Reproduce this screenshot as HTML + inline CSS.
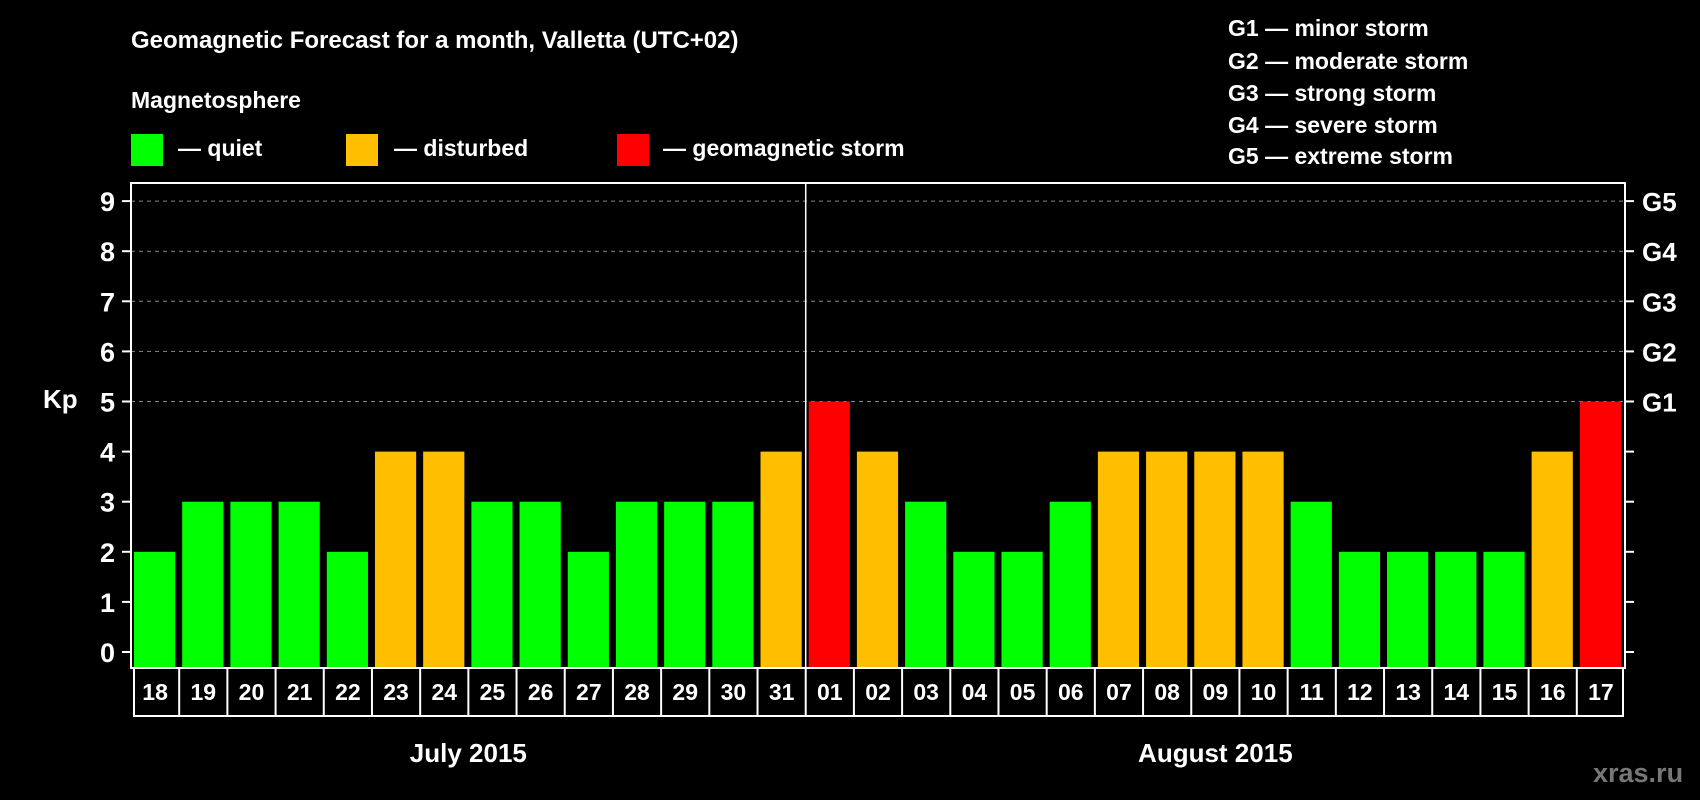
<!DOCTYPE html>
<html><head><meta charset="utf-8"><style>
body{margin:0;background:#000;width:1700px;height:800px;overflow:hidden}
svg{display:block;font-family:"Liberation Sans",sans-serif;font-weight:bold}
</style></head><body>
<svg id="c" width="1700" height="800">
<text x="131" y="48" fill="#fff" font-size="24">Geomagnetic Forecast for a month, Valletta (UTC+02)</text>
<text x="131" y="108" fill="#fff" font-size="23">Magnetosphere</text>
<rect x="131" y="134" width="32" height="32" fill="#00ff00"/>
<text x="178" y="156" fill="#fff" font-size="23">— quiet</text>
<rect x="346" y="134" width="32" height="32" fill="#ffbf00"/>
<text x="394" y="156" fill="#fff" font-size="23">— disturbed</text>
<rect x="617" y="134" width="32" height="32" fill="#ff0000"/>
<text x="663" y="156" fill="#fff" font-size="23">— geomagnetic storm</text>
<g font-size="23" fill="#fff">
<text x="1228" y="36">G1 — minor storm</text>
<text x="1228" y="69">G2 — moderate storm</text>
<text x="1228" y="101">G3 — strong storm</text>
<text x="1228" y="133">G4 — severe storm</text>
<text x="1228" y="164">G5 — extreme storm</text>
</g>
<text x="43" y="408" fill="#fff" font-size="26">Kp</text>
<text x="1593" y="782" fill="#777" font-size="27">xras.ru</text>
<g id="plot"></g>
</svg>
<script>
const days=["18","19","20","21","22","23","24","25","26","27","28","29","30","31","01","02","03","04","05","06","07","08","09","10","11","12","13","14","15","16","17"];
const kp=[2,3,3,3,2,4,4,3,3,2,3,3,3,4,5,4,3,2,2,3,4,4,4,4,3,2,2,2,2,4,5];
const yTicks=[0,1,2,3,4,5,6,7,8,9];
const gLabels=["G1","G2","G3","G4","G5"];
const months=["July 2015","August 2015"];
const NS="http://www.w3.org/2000/svg";
const L=131,R=1625,T=183,B=668;
const slot=(R-L)/days.length;
const y=v=>652-v*50.1;
const x=i=>L+i*slot;
const g=document.getElementById('plot');
function mk(t,a,txt){const e=document.createElementNS(NS,t);for(const k in a)e.setAttribute(k,a[k]);if(txt!=null)e.textContent=txt;g.appendChild(e);return e;}
// grid
yTicks.forEach(v=>{
  if(v>=5){const l=mk('line',{x1:L,x2:R,y1:y(v),y2:y(v),stroke:'#888','stroke-width':1,'stroke-dasharray':'4,4'});
  
  }
  const t1=mk('line',{x1:L-9,x2:L,y1:y(v),y2:y(v),stroke:'#fff','stroke-width':2});
  
  
  const t2=mk('line',{x1:R,x2:R+9,y1:y(v),y2:y(v),stroke:'#fff','stroke-width':2});
  
  
  const tl=mk('text',{x:115,y:y(v)+10,fill:'#fff','font-size':27,'text-anchor':'end'},String(v));
  
  
});
gLabels.forEach((s,i)=>{
  const t=mk('text',{x:1642,y:y(i+5)+10,fill:'#fff','font-size':26},s);
  
  
});
// bars
kp.forEach((v,i)=>{
  const c=v>=5?'#ff0000':v>=4?'#ffbf00':'#00ff00';
  const r=mk('rect',{x:x(i)+3,y:y(v),width:slot-7,height:B-y(v),fill:c});
  
  
});
// frame
const f=mk('rect',{x:L,y:T,width:R-L,height:B-T,fill:'none',stroke:'#fff','stroke-width':2});


const div=mk('line',{x1:x(14),x2:x(14),y1:T,y2:B,stroke:'#fff','stroke-width':1.5});


// day label boxes
const bx=mk('rect',{x:L+3,y:B,width:R-L-5,height:48,fill:'none',stroke:'#fff','stroke-width':2});


days.forEach((d,i)=>{
  if(i>0){const s=mk('line',{x1:x(i),x2:x(i),y1:B,y2:B+48,stroke:'#fff','stroke-width':2});
  
  }
  const t=mk('text',{x:x(i)+slot/2,y:B+32,fill:'#fff','font-size':23,'text-anchor':'middle'},d);
  
  
});
const m1=mk('text',{x:(x(0)+x(14))/2,y:762,fill:'#fff','font-size':26,'text-anchor':'middle'},months[0]);


const m2=mk('text',{x:(x(14)+x(days.length))/2,y:762,fill:'#fff','font-size':26,'text-anchor':'middle'},months[1]);


</script>
</body></html>
